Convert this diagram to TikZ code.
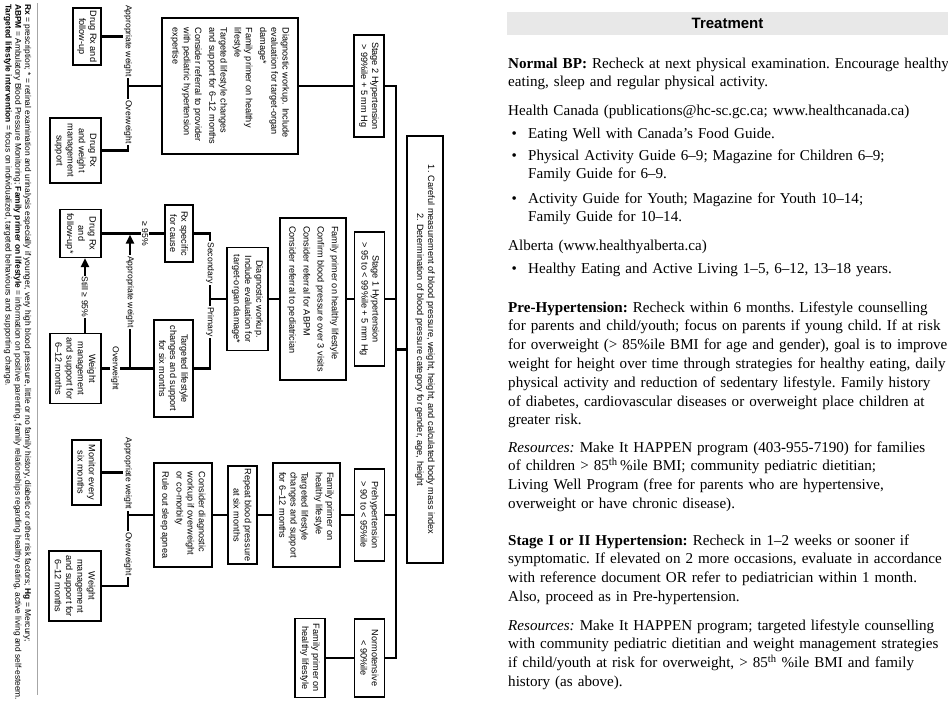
\documentclass[tikz,border=0pt]{standalone}
\usepackage{fontspec}
\setmainfont{Liberation Serif}
\setsansfont{Liberation Sans}
\usetikzlibrary{arrows.meta,calc}
\newcommand\dfont{\sffamily\fontsize{9.15}{11.2}\selectfont}
\newcommand\lfont{\sffamily\fontsize{8.6}{10}\selectfont}
\newcommand\ffont{\sffamily\fontsize{8.4}{9.8}\selectfont}
\newcommand\tfont{\rmfamily\fontsize{15.1}{18.8}\selectfont\frenchspacing\hyphenpenalty=10000 }
\newcommand\bul{\makebox[20pt][l]{\hspace{3.5pt}•}}
\begin{document}
\begin{tikzpicture}[x=1pt,y=-1pt,
  box/.style={draw=black, line width=1.1pt, rotate=-90, inner sep=0pt, align=center, font=\dfont},
  lbox/.style={box, align=left},
  conn/.style={line width=2.4pt, draw=black},
  lbl/.style={rotate=-90, fill=white, inner sep=1.2pt, font=\lfont},
  arr/.style={-{Triangle[length=9pt,width=8pt]}},
  tpar/.style={anchor=base west, inner sep=0pt, text width=480pt, align=left, font=\tfont}]
\useasboundingbox (0,0) rectangle (948,702);

% footnote
\draw[gray!70, line width=0.8pt] (37,3) -- (37,695);
\node[rotate=-90, anchor=north west, inner sep=0pt, align=left, font=\ffont] (foot) at (31.5,4)
 {\textbf{Rx} = prescription; * = retinal examination and urinalysis especially if younger, very high blood pressure, little or no family history, diabetic or other risk factors; \textbf{Hg} = Mercury;\\
  \textbf{ABPM} = Ambulatory Blood Pressure Monitoring; \textbf{Family primer on lifestyle} = information on positive parenting, family relationships regarding healthy eating, active living and self-esteem.\\
  \textbf{Targeted lifestyle intervention} = focus on individualized, targeted behaviours and supporting change.};

% main boxes
\node[box, minimum width=427pt, minimum height=36pt] (big) at (425,349.5)
 {1. Careful measurement of blood pressure, weight, height, and calculated body mass index\\2. Determination of blood pressure category for gender, age, height};

\node[box, minimum width=102pt, minimum height=30pt] (s2) at (369,86) {Stage 2 Hypertension\\> 99\%ile + 5 mm Hg};
\node[lbox, minimum width=136pt, minimum height=136pt] (d2) at (230,86)
 {Diagnostic workup. Include\\evaluation for target-organ\\damage*\\[3pt]Family primer on healthy\\lifestyle\\[3pt]Targeted lifestyle changes\\and support for 6–12 months\\[3pt]Consider referral to provider\\with pediatric hypertension\\expertise};
\node[box, minimum width=57pt, minimum height=28pt] (drfu2) at (87,36.5) {Drug Rx and\\follow-up};
\node[box, minimum width=65pt, minimum height=51pt] (drwm2) at (75.5,150.5) {Drug Rx\\and weight\\management\\support};

\node[box, minimum width=134pt, minimum height=30pt] (s1) at (369.5,299) {Stage 1 Hypertension\\> 95 to < 99\%ile + 5 mm Hg};
\node[lbox, minimum width=162pt, minimum height=66pt] (f1) at (313,299)
 {Family primer on healthy lifestyle\\[3pt]Confirm blood pressure over 3 visits\\[3pt]Consider referral for ABPM\\[3pt]Consider referral to pediatrician};
\node[box, minimum width=103pt, minimum height=41pt] (d1) at (247.5,299) {Diagnostic workup.\\Include evaluation for\\target-organ damage*};
\node[box, minimum width=57pt, minimum height=28pt] (rx) at (179,233.5) {Rx specific\\for cause};
\node[box, minimum width=97pt, minimum height=39pt] (tg) at (173.5,368.5) {Targeted lifestyle\\changes and support\\for six months};
\node[box, minimum width=48pt, minimum height=41pt] (drfu1) at (80.5,233.5) {Drug Rx\\and\\follow-up*};
\node[box, minimum width=70pt, minimum height=51pt] (wm1) at (75.5,368.5) {Weight\\management\\and support for\\6–12 months};

\node[box, minimum width=92pt, minimum height=30pt] (pre) at (369.5,515) {Prehypertension\\> 90 to < 95\%ile};
\node[lbox, minimum width=104pt, minimum height=67pt] (fp) at (306.5,515)
 {Family primer on\\healthy lifestyle\\[3pt]Targeted lifestyle\\changes and support\\for 6–12 months};
\node[box, minimum width=98pt, minimum height=29pt] (rp) at (242.5,515) {Repeat blood pressure\\at six months};
\node[lbox, minimum width=104pt, minimum height=58pt] (cd) at (183,515)
 {Consider diagnostic\\workup if overweight\\or co-morbity\\[3pt]Rule out sleep apnea};
\node[box, minimum width=65pt, minimum height=29pt] (mon) at (86.5,472.5) {Monitor every\\six months};
\node[box, minimum width=70pt, minimum height=52pt] (wmp) at (75,586) {Weight\\management\\and support for\\6–12 months};

\node[box, minimum width=78pt, minimum height=30pt] (nt) at (369.5,658) {Normotensive\\< 90\%ile};
\node[box, minimum width=79pt, minimum height=30pt] (fn) at (310,658) {Family primer on\\healthy lifestyle};

% trunk
\coordinate (T0) at (396,86);
\coordinate (TB) at (396,658);
\draw[conn, line join=miter] (s2.north) -- (T0) -- (TB) -- (nt.north);
\draw[conn] (s1.north) -- (s1.north -| T0);
\draw[conn] (pre.north) -- (pre.north -| T0);
\draw[conn] (big.south) -- (big.south -| T0);
\draw[conn] (s2.south) -- (d2.north);
\draw[conn] (s1.south) -- (f1.north);
\draw[conn] (f1.south) -- (d1.north);
\draw[conn] (pre.south) -- (fp.north);
\draw[conn] (fp.south) -- (rp.north);
\draw[conn] (rp.south) -- (cd.north);
\draw[conn] (nt.south) -- (fn.north);

% stage 2 branches
\coordinate (J2) at (128,86);
\draw[conn] (d2.south) -- (J2);
\draw[conn, line join=miter] (drfu2.north) -- (drfu2.north -| J2) -- (drwm2.north -| J2) -- (drwm2.north);

% stage 1 branches
\coordinate (J1) at (210,299);
\draw[conn] (d1.south) -- (J1);
\draw[conn, line join=miter] (rx.north) -- (rx.north -| J1) -- (tg.north -| J1) -- (tg.north);
\draw[conn] (rx.south) -- (drfu1.north);
\draw[conn] (tg.south) -- (wm1.north);
\coordinate (A1) at (130,368.5);
\draw[conn, arr, shorten >=1.2pt] (A1) -- (A1 |- rx.south);
\draw[conn, arr] ([xshift=9.5pt]wm1.west) -- ([xshift=9.5pt]wm1.west |- drfu1.east);

% prehypertension branches
\coordinate (J3) at (128,515);
\draw[conn] (cd.south) -- (J3);
\draw[conn, line join=miter] (mon.north) -- (mon.north -| J3) -- (wmp.north -| J3) -- (wmp.north);

% branch labels
\node[lbl] (aw2) at (128,41) {Appropriate weight};
\node[lbl] (ow2) at (128,122) {Overweight};
\node[lbl] (sec) at (210,263) {Secondary};
\node[lbl] (pri) at (210,322) {Primary};
\node[lbl] (g95) at (145,233.5) {≥ 95\%};
\node[lbl] (aw1) at (130,292) {Appropriate weight};
\node[lbl] (ow1) at (115,368.5) {Overweight};
\node[lbl] (st95) at (85,297) {Still ≥ 95\%};
\node[lbl] (aw3) at (128,473.5) {Appropriate weight};
\node[lbl] (ow3) at (128,554) {Overweight};

% treatment panel
\node[fill=gray!18, minimum width=441pt, minimum height=23pt, inner sep=0pt,
      font=\sffamily\bfseries\fontsize{15}{18}\selectfont] (hdr) at (727.5,23.5) {Treatment};

\node[tpar] (p1) at (508,68) {\textbf{Normal BP:} Recheck at next physical examination. Encourage healthy\\eating, sleep and regular physical activity.};
\node[tpar] (p2) at (508,115) {Health Canada (publications@hc-sc.gc.ca; www.healthcanada.ca)};
\node[tpar] (b1) at (508,138) {\bul Eating Well with Canada’s Food Guide.};
\node[tpar] (b2) at (508,160) {\bul Physical Activity Guide 6–9; Magazine for Children 6–9;\\\hspace*{20pt}Family Guide for 6–9.};
\node[tpar] (b3) at (508,203) {\bul Activity Guide for Youth; Magazine for Youth 10–14;\\\hspace*{20pt}Family Guide for 10–14.};
\node[tpar] (p3) at (508,250) {Alberta (www.healthyalberta.ca)};
\node[tpar] (b4) at (508,273) {\bul Healthy Eating and Active Living 1–5, 6–12, 13–18 years.};
\node[tpar] (p4) at (508,312) {\textbf{Pre-Hypertension:} Recheck within 6 months. Lifestyle counselling\\for parents and child/youth; focus on parents if young child. If at risk\\for overweight (> 85\%ile BMI for age and gender), goal is to improve\\weight for height over time through strategies for healthy eating, daily\\physical activity and reduction of sedentary lifestyle. Family history\\of diabetes, cardiovascular diseases or overweight place children at\\greater risk.};
\node[tpar] (p5) at (508,452) {\textit{Resources:} Make It HAPPEN program (403-955-7190) for families\\of children > 85\textsuperscript{th}\,\%ile BMI; community pediatric dietitian;\\Living Well Program (free for parents who are hypertensive,\\overweight or have chronic disease).};
\node[tpar] (p6) at (508,545) {\textbf{Stage I or II Hypertension:} Recheck in 1–2 weeks or sooner if\\symptomatic. If elevated on 2 more occasions, evaluate in accordance\\with reference document OR refer to pediatrician within 1 month.\\Also, proceed as in Pre-hypertension.};
\node[tpar] (p7) at (508,630) {\textit{Resources:} Make It HAPPEN program; targeted lifestyle counselling\\with community pediatric dietitian and weight management strategies\\if child/youth at risk for overweight, > 85\textsuperscript{th} \%ile BMI and family\\history (as above).};
\end{tikzpicture}
\end{document}
